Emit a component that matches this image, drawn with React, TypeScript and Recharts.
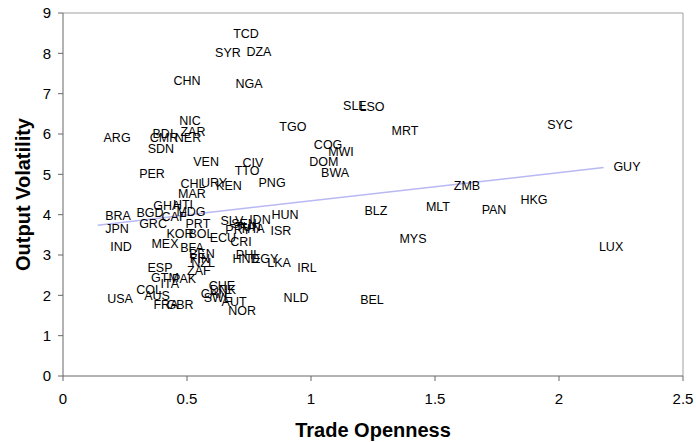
import { ScatterChart, Scatter, XAxis, YAxis, ReferenceLine } from 'recharts'

// country codes with trade openness (x) and output volatility (y)
const codes = [
  'TCD', 'SYR', 'DZA', 'CHN', 'NGA', 'SLE', 'LSO', 'TGO', 'MRT', 'SYC',
  'NIC', 'ZAR', 'BDI', 'CMR', 'NER', 'ARG', 'SDN', 'COG', 'MWI', 'DOM',
  'BWA', 'VEN', 'CIV', 'TTO', 'PER', 'CHL', 'URY', 'KEN', 'PNG', 'MAR',
  'GUY', 'ZMB', 'HKG', 'PAN', 'MLT', 'BLZ', 'MYS', 'LUX', 'IRL', 'BEL',
  'NLD', 'GHA', 'HTI', 'MDG', 'BGD', 'CAF', 'BRA', 'GRC', 'JPN', 'PRT',
  'KOR', 'BOL', 'ECU', 'SLV', 'SEN', 'TUN', 'PRY', 'THA', 'IDN', 'HUN',
  'ISR', 'CRI', 'MEX', 'IND', 'BFA', 'BEN', 'FIN', 'NZL', 'ZAF', 'ESP',
  'GTM', 'PAK', 'ITA', 'PHL', 'HND', 'EGY', 'LKA', 'CHE', 'DNK', 'CAN',
  'SWE', 'AUT', 'NOR', 'COL', 'AUS', 'USA', 'FRA', 'GBR',
]

const openness = [
  0.738, 0.665, 0.79, 0.5, 0.75, 1.177, 1.246, 0.927, 1.379, 2.004,
  0.512, 0.524, 0.403, 0.407, 0.504, 0.218, 0.395, 1.069, 1.121, 1.052,
  1.097, 0.577, 0.766, 0.742, 0.359, 0.524, 0.609, 0.669, 0.843, 0.52,
  2.274, 1.629, 1.899, 1.738, 1.512, 1.262, 1.411, 2.21, 0.984, 1.246,
  0.94, 0.419, 0.484, 0.516, 0.351, 0.448, 0.222, 0.363, 0.218, 0.544,
  0.472, 0.556, 0.645, 0.681, 0.73, 0.746, 0.706, 0.762, 0.794, 0.895,
  0.879, 0.718, 0.411, 0.234, 0.52, 0.56, 0.552, 0.565, 0.548, 0.391,
  0.411, 0.488, 0.431, 0.746, 0.738, 0.815, 0.871, 0.641, 0.645, 0.609,
  0.625, 0.69, 0.722, 0.347, 0.379, 0.23, 0.415, 0.472,
]

const volatility = [
  8.48, 8.01, 8.03, 7.32, 7.24, 6.7, 6.67, 6.18, 6.08, 6.23,
  6.33, 6.05, 6.0, 5.9, 5.9, 5.9, 5.63, 5.73, 5.56, 5.31,
  5.04, 5.31, 5.29, 5.09, 5.01, 4.77, 4.79, 4.72, 4.79, 4.52,
  5.19, 4.72, 4.37, 4.12, 4.2, 4.1, 3.4, 3.21, 2.69, 1.89,
  1.94, 4.22, 4.25, 4.07, 4.05, 3.95, 3.97, 3.78, 3.65, 3.78,
  3.53, 3.53, 3.43, 3.85, 3.78, 3.7, 3.63, 3.65, 3.87, 4.0,
  3.6, 3.33, 3.28, 3.21, 3.18, 3.03, 2.91, 2.79, 2.61, 2.69,
  2.44, 2.41, 2.27, 3.01, 2.91, 2.91, 2.81, 2.22, 2.14, 2.04,
  1.94, 1.84, 1.6, 2.12, 1.99, 1.92, 1.75, 1.75,
]

// fitted line end points
const trendOpenness = [0.14, 2.18]
const trendVolatility = [3.74, 5.17]

const xTicks = [0, 0.5, 1, 1.5, 2, 2.5]
const yTicks = [0, 1, 2, 3, 4, 5, 6, 7, 8, 9]

const countries = codes.map((code, i) => ({ code, x: openness[i], y: volatility[i] }))
const trend = trendOpenness.map((x, i) => ({ x, y: trendVolatility[i] }))

function CodeLabel(props: any) {
  const { cx, cy, payload } = props
  return (
    <text x={cx} y={cy} textAnchor="middle" dominantBaseline="central" fontSize={12.5} fill="#000">
      {payload.code}
    </text>
  )
}

export default function App() {
  return (
    <div style={{ position: 'absolute', left: 0, top: 0, background: '#fff' }}>
      <ScatterChart
        width={696}
        height={442}
        margin={{ top: 13, right: 13, left: 0, bottom: 0 }}
        style={{ fontFamily: '"Liberation Sans", Arial, sans-serif' }}
      >
        <XAxis
          type="number"
          dataKey="x"
          domain={[0, 2.5]}
          ticks={xTicks}
          height={66}
          stroke="#666"
          tickSize={5}
          tickMargin={12}
          tick={{ fontSize: 15, fill: '#000' }}
          label={{
            value: 'Trade Openness',
            position: 'center',
            dy: 21,
            style: { fontSize: 20, fontWeight: 'bold', fill: '#000' },
          }}
        />
        <YAxis
          type="number"
          dataKey="y"
          domain={[0, 9]}
          ticks={yTicks}
          width={63}
          stroke="#666"
          tickSize={5}
          tickMargin={7}
          tick={{ fontSize: 15, fill: '#000' }}
          label={{
            value: 'Output Volatility',
            angle: -90,
            position: 'center',
            dx: -9,
            style: { fontSize: 20, fontWeight: 'bold', fill: '#000' },
          }}
        />
        <ReferenceLine y={9} stroke="#a0a0a0" />
        <ReferenceLine x={2.5} stroke="#a0a0a0" />
        <Scatter
          data={trend}
          line={{ stroke: '#b8b8f4', strokeWidth: 1.5 }}
          shape={() => <g />}
          isAnimationActive={false}
        />
        <Scatter data={countries} shape={CodeLabel} isAnimationActive={false} />
      </ScatterChart>
    </div>
  )
}
